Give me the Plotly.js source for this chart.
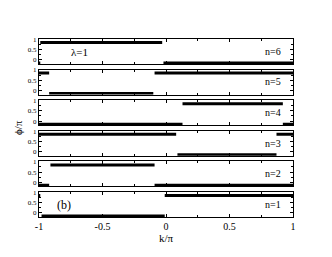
<!DOCTYPE html>
<html>
<head>
<meta charset="utf-8">
<script src="https://cdn.plot.ly/plotly-3.0.1.min.js"></script>
<style>
  html, body { margin: 0; padding: 0; background: #fff; }
  #chart { width: 332px; height: 257px; }
</style>
</head>
<body>
<div id="chart"></div>
<script>
// phase phi/pi vs k/pi for n = 1..6 (lambda = 1); null splits the segments
const K1 = [-1, -0.99, null, -0.98, -0.01, null, -0.01, 1];
const PHI1 = [0.85, 0.85, null, -0.15, -0.15, null, 0.85, 0.85];

const K2 = [-1, -0.92, null, -0.91, -0.09, null, -0.09, 1];
const PHI2 = [-0.15, -0.15, null, 0.85, 0.85, null, -0.15, -0.15];

const K3 = [-1, 0.08, null, 0.09, 0.87, null, 0.87, 1];
const PHI3 = [0.85, 0.85, null, -0.15, -0.15, null, 0.85, 0.85];

const K4 = [-1, 0.13, null, 0.13, 0.92, null, 0.92, 1];
const PHI4 = [-0.15, -0.15, null, 0.85, 0.85, null, -0.15, -0.15];

const K5 = [-1, -0.92, null, -0.92, -0.1, null, -0.09, 1];
const PHI5 = [0.85, 0.85, null, -0.15, -0.15, null, 0.85, 0.85];

const K6 = [-1, -0.99, null, -0.99, -0.03, null, -0.02, 1];
const PHI6 = [-0.15, -0.15, null, 0.85, 0.85, null, -0.15, -0.15];

const N_LABELS = ["n=1", "n=2", "n=3", "n=4", "n=5", "n=6"];
const X_TICKS = [-1, -0.5, 0, 0.5, 1];
const X_TICK_TEXT = ["-1", "-0.5", "0", "0.5", "1"];
const Y_TICKS = [0, 0.5, 1];
const Y_TICK_TEXT = ["0", "0.5", "1"];

const FONT = "Liberation Serif, Times New Roman, serif";
const INK = "#000";

const ks = [K1, K2, K3, K4, K5, K6];
const phis = [PHI1, PHI2, PHI3, PHI4, PHI5, PHI6];

const traces = ks.map((k, i) => ({
  x: k,
  y: phis[i],
  xaxis: i === 0 ? "x" : "x" + (i + 1),
  yaxis: i === 0 ? "y" : "y" + (i + 1),
  type: "scatter",
  mode: "lines",
  connectgaps: false,
  line: { color: INK, width: 3 },
  hoverinfo: "skip",
}));

const layout = {
  width: 332,
  height: 257,
  paper_bgcolor: "#fff",
  plot_bgcolor: "#fff",
  showlegend: false,
  margin: { t: 39, r: 39, b: 40, l: 39 },
  font: { family: FONT, color: INK, size: 8 },
  annotations: [],
};

for (let i = 0; i < 6; i++) {
  const s = i === 0 ? "" : String(i + 1);
  const lo = i * 0.172;
  layout["xaxis" + s] = {
    range: [-1, 1],
    anchor: "y" + s,
    matches: i === 0 ? undefined : "x",
    showline: true, linecolor: INK, linewidth: 1, mirror: "ticks",
    ticks: "inside", ticklen: 3, tickcolor: INK,
    tickvals: X_TICKS, ticktext: X_TICK_TEXT,
    showticklabels: i === 0,
    tickfont: { family: FONT, size: 10, color: INK },
    minor: { ticks: "inside", ticklen: 2, dtick: 0.25, tickcolor: INK },
    showgrid: false, zeroline: false,
    title: i === 0 ? { text: "k/π", font: { family: FONT, size: 11, color: INK }, standoff: 1 } : undefined,
  };
  layout["yaxis" + s] = {
    range: [-0.2, 1.02],
    domain: [lo, i === 5 ? 1 : lo + 0.14],
    anchor: "x" + s,
    showline: true, linecolor: INK, linewidth: 1, mirror: "ticks",
    ticks: "inside", ticklen: 3, tickcolor: INK,
    tickvals: Y_TICKS, ticktext: Y_TICK_TEXT,
    tickfont: { family: FONT, size: 7, color: INK },
    minor: { ticks: "inside", ticklen: 2, dtick: 0.25, tickcolor: INK },
    showgrid: false, zeroline: false,
  };
  layout.annotations.push({
    x: 0.84, xref: "x" + s, y: 0.42, yref: "y" + s,
    text: N_LABELS[i], showarrow: false,
    font: { family: FONT, size: 10, color: INK },
  });
}

layout.annotations.push(
  { x: -0.68, xref: "x6", y: 0.38, yref: "y6", text: "λ=1", showarrow: false,
    font: { family: FONT, size: 11, color: INK } },
  { x: -0.8, xref: "x", y: 0.4, yref: "y", text: "(b)", showarrow: false,
    font: { family: FONT, size: 12, color: INK } },
  { x: 0, xref: "paper", xshift: -29, y: 0.5, yref: "paper", text: "ϕ/π",
    textangle: -90, showarrow: false, font: { family: FONT, size: 11, color: INK } }
);

Plotly.newPlot("chart", traces, layout, { displayModeBar: false, staticPlot: true });
</script>
</body>
</html>
